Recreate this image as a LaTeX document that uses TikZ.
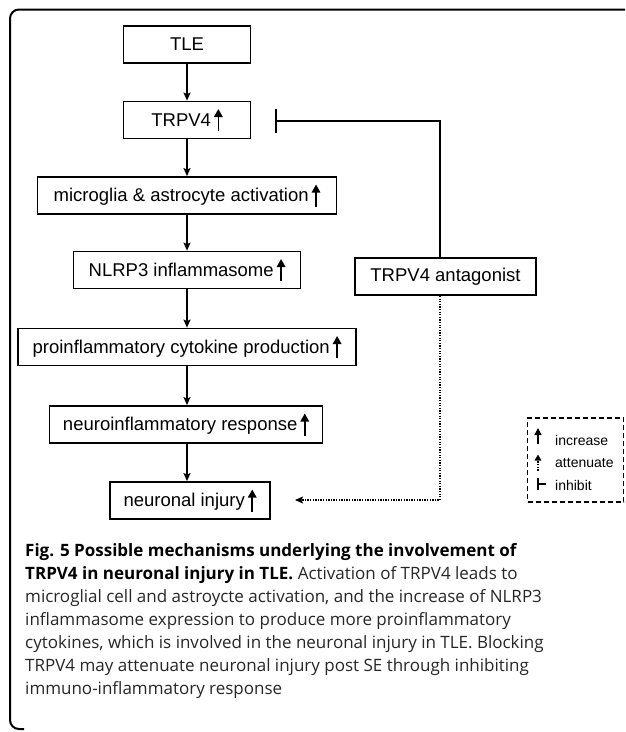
\documentclass[tikz,border=0pt]{standalone}
\usepackage{fontspec}
\setmainfont{Liberation Sans}
\newfontfamily\capfont{Open Sans}
\usetikzlibrary{arrows.meta,calc}
\newcommand\upar{\tikz[baseline=0pt]\draw[line width=1.5pt,-{Triangle[length=8pt,width=8.5pt]}] (0pt,-5pt)--(0pt,17pt);}
\begin{document}
\begin{tikzpicture}[x=1pt,y=-1pt,
  box/.style={draw, line width=1.8pt, minimum height=37pt, inner sep=0pt,
    font=\fontsize{18.5}{22}\selectfont},
  conn/.style={line width=1.4pt, -{Stealth[length=8pt,width=7pt,inset=1.5pt]}},
  captxt/.style={anchor=west, inner sep=0pt, text=black!85, font=\capfont\fontsize{17}{20}\selectfont},
  legtxt/.style={anchor=west, inner sep=0pt, font=\fontsize{14}{16}\selectfont}]
\useasboundingbox (0,0) rectangle (625,732);
% frame
\draw[line width=2pt, rounded corners=9pt] (625,9.5) -- (10,9.5) -- (10,729) -- (24,729);
% main column
\node[box, minimum width=127pt] (tle) at (187,44.5) {TLE};
\node[box, minimum width=127pt] (trpv) at (187,120) {TRPV4\,\upar};
\node[box, minimum width=299pt] (mic) at (187,195.5) {microglia \& astrocyte activation\,\upar};
\node[box, minimum width=227pt] (nlrp) at (187,270) {NLRP3 inflammasome\,\upar};
\node[box, minimum width=338pt] (pro) at (187,347) {proinflammatory cytokine production\,\upar};
\node[box, minimum width=273pt] (neu) at (186,424.5) {neuroinflammatory response\,\upar};
\node[box, minimum width=160pt] (inj) at (190,500.5) {neuronal injury\,\upar};
\node[box, minimum width=181pt] (ant) at (445.5,276.5) {TRPV4 antagonist};
% connectors
\draw[conn] (tle.south) -- (trpv.north);
\draw[conn] (trpv.south) -- (mic.north);
\draw[conn] (mic.south) -- (mic.south |- nlrp.north);
\draw[conn] (mic.south |- nlrp.south) -- (mic.south |- pro.north);
\draw[conn] (mic.south |- pro.south) -- (mic.south |- neu.north);
\draw[conn] (mic.south |- neu.south) -- (mic.south |- inj.north);
% inhibit and attenuate
\coordinate (jx) at (440,0);
\coordinate (inh) at (275,121);
\coordinate (att) at (295,500);
\draw[line width=1.4pt, -{Bar[width=24pt,line width=1.6pt]}] (jx |- ant.north) |- (inh);
\draw[line width=1.3pt, dash pattern=on 1.3pt off 1.3pt, -{Stealth[length=8pt,width=7pt,inset=1.5pt]}] (jx |- ant.south) |- (att);
% legend
\node[draw, line width=1.2pt, dash pattern=on 5pt off 3pt, minimum width=96pt, minimum height=84pt, inner sep=0pt] (leg) at (575.5,460) {};
\node[legtxt] (l1) at (555,440) {increase};
\node[legtxt] (l2) at (555,463.5) {attenuate};
\node[legtxt] (l3) at (555,485) {inhibit};
\draw[line width=1.4pt, -{Triangle[length=7pt,width=7pt]}] ($(l1.west)+(-17,4)$) -- ($(l1.west)+(-17,-12)$);
\draw[line width=1.3pt, dash pattern=on 1.3pt off 1.3pt, -{Triangle[length=6pt,width=6.5pt]}] ($(l2.west)+(-17,7)$) -- ($(l2.west)+(-17,-9)$);
\draw[line width=1.4pt] ($(l3.west)+(-17,-7)$) -- ($(l3.west)+(-17,5)$);
\draw[line width=1.4pt] ($(l3.west)+(-17,-1)$) -- ($(l3.west)+(-9,-1)$);
% caption
\node[captxt, text=black] (c1) at (25,552) {\bfseries Fig. 5 Possible mechanisms underlying the involvement of};
\node[captxt] (c2) at (25,575) {\textcolor{black}{\bfseries TRPV4 in neuronal injury in TLE.} Activation of TRPV4 leads to};
\node[captxt] (c3) at (25,598) {microglial cell and astroycte activation, and the increase of NLRP3};
\node[captxt] (c4) at (25,621) {inflammasome expression to produce more proinflammatory};
\node[captxt] (c5) at (25,644) {cytokines, which is involved in the neuronal injury in TLE. Blocking};
\node[captxt] (c6) at (25,667) {TRPV4 may attenuate neuronal injury post SE through inhibiting};
\node[captxt] (c7) at (25,690) {immuno-inflammatory response};
\end{tikzpicture}
\end{document}
